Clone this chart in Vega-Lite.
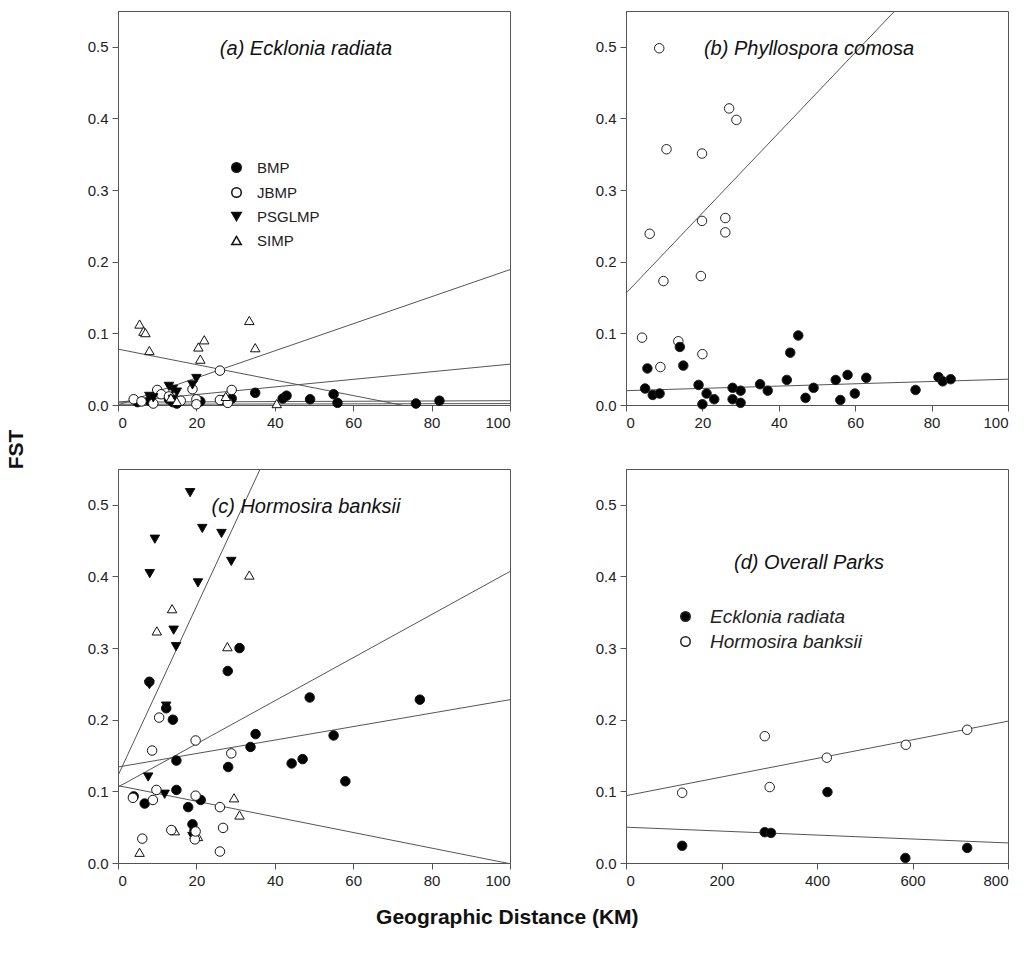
{
  "$schema": "https://vega.github.io/schema/vega-lite/v6.json",
  "padding": {"left": 5, "top": 10, "right": 10, "bottom": 10},
  "background": "white",
  "config": {
    "font": "Liberation Sans",
    "view": {"stroke": "#555", "strokeWidth": 1},
    "axis": {"grid": false, "domainColor": "#555", "tickColor": "#555", "labelFont": "Liberation Sans", "labelFontSize": 15, "labelColor": "#222", "tickSize": 6, "labelPadding": 4},
    "legend": {"labelFont": "Liberation Sans", "labelFontSize": 15, "labelColor": "#222"}
  },
  "datasets": {
    "pts": [
      {"panel": "a", "group": "BMP", "x": 5, "y": 0.004}, {"panel": "a", "group": "BMP", "x": 8, "y": 0.006}, {"panel": "a", "group": "BMP", "x": 13, "y": 0.008}, {"panel": "a", "group": "BMP", "x": 14, "y": 0.004}, {"panel": "a", "group": "BMP", "x": 15, "y": 0.002}, {"panel": "a", "group": "BMP", "x": 21, "y": 0.005}, {"panel": "a", "group": "BMP", "x": 27, "y": 0.007}, {"panel": "a", "group": "BMP", "x": 28, "y": 0.004}, {"panel": "a", "group": "BMP", "x": 29, "y": 0.009}, {"panel": "a", "group": "BMP", "x": 35, "y": 0.017}, {"panel": "a", "group": "BMP", "x": 42, "y": 0.009}, {"panel": "a", "group": "BMP", "x": 43, "y": 0.013}, {"panel": "a", "group": "BMP", "x": 49, "y": 0.008}, {"panel": "a", "group": "BMP", "x": 55, "y": 0.015}, {"panel": "a", "group": "BMP", "x": 56, "y": 0.003}, {"panel": "a", "group": "BMP", "x": 76, "y": 0.002}, {"panel": "a", "group": "BMP", "x": 82, "y": 0.006},
      {"panel": "a", "group": "JBMP", "x": 4, "y": 0.008}, {"panel": "a", "group": "JBMP", "x": 6, "y": 0.005}, {"panel": "a", "group": "JBMP", "x": 9, "y": 0.002}, {"panel": "a", "group": "JBMP", "x": 10, "y": 0.021}, {"panel": "a", "group": "JBMP", "x": 11, "y": 0.015}, {"panel": "a", "group": "JBMP", "x": 13, "y": 0.012}, {"panel": "a", "group": "JBMP", "x": 16, "y": 0.006}, {"panel": "a", "group": "JBMP", "x": 19, "y": 0.022}, {"panel": "a", "group": "JBMP", "x": 20, "y": 0.008}, {"panel": "a", "group": "JBMP", "x": 20, "y": 0.001}, {"panel": "a", "group": "JBMP", "x": 26, "y": 0.048}, {"panel": "a", "group": "JBMP", "x": 26, "y": 0.007}, {"panel": "a", "group": "JBMP", "x": 28, "y": 0.003}, {"panel": "a", "group": "JBMP", "x": 29, "y": 0.021},
      {"panel": "a", "group": "PSGLMP", "x": 8, "y": 0.012}, {"panel": "a", "group": "PSGLMP", "x": 9, "y": 0.010}, {"panel": "a", "group": "PSGLMP", "x": 13, "y": 0.026}, {"panel": "a", "group": "PSGLMP", "x": 14, "y": 0.022}, {"panel": "a", "group": "PSGLMP", "x": 15, "y": 0.018}, {"panel": "a", "group": "PSGLMP", "x": 14, "y": 0.008}, {"panel": "a", "group": "PSGLMP", "x": 19, "y": 0.028}, {"panel": "a", "group": "PSGLMP", "x": 20, "y": 0.037},
      {"panel": "a", "group": "SIMP", "x": 5.5, "y": 0.113}, {"panel": "a", "group": "SIMP", "x": 6.5, "y": 0.103}, {"panel": "a", "group": "SIMP", "x": 7, "y": 0.101}, {"panel": "a", "group": "SIMP", "x": 8, "y": 0.076}, {"panel": "a", "group": "SIMP", "x": 13.5, "y": 0.010}, {"panel": "a", "group": "SIMP", "x": 15, "y": 0.005}, {"panel": "a", "group": "SIMP", "x": 20.5, "y": 0.081}, {"panel": "a", "group": "SIMP", "x": 21, "y": 0.064}, {"panel": "a", "group": "SIMP", "x": 22, "y": 0.091}, {"panel": "a", "group": "SIMP", "x": 27.5, "y": 0.012}, {"panel": "a", "group": "SIMP", "x": 33.5, "y": 0.118}, {"panel": "a", "group": "SIMP", "x": 35, "y": 0.080}, {"panel": "a", "group": "SIMP", "x": 40.5, "y": 0.002},

      {"panel": "b", "group": "JBMP", "x": 4.2, "y": 0.094}, {"panel": "b", "group": "JBMP", "x": 13.7, "y": 0.089}, {"panel": "b", "group": "JBMP", "x": 20, "y": 0.071}, {"panel": "b", "group": "JBMP", "x": 9, "y": 0.053}, {"panel": "b", "group": "JBMP", "x": 8.7, "y": 0.498}, {"panel": "b", "group": "JBMP", "x": 27, "y": 0.414}, {"panel": "b", "group": "JBMP", "x": 28.9, "y": 0.398}, {"panel": "b", "group": "JBMP", "x": 10.6, "y": 0.357}, {"panel": "b", "group": "JBMP", "x": 19.9, "y": 0.351}, {"panel": "b", "group": "JBMP", "x": 19.9, "y": 0.257}, {"panel": "b", "group": "JBMP", "x": 26, "y": 0.261}, {"panel": "b", "group": "JBMP", "x": 26, "y": 0.241}, {"panel": "b", "group": "JBMP", "x": 6.2, "y": 0.239}, {"panel": "b", "group": "JBMP", "x": 19.6, "y": 0.180}, {"panel": "b", "group": "JBMP", "x": 9.8, "y": 0.173},
      {"panel": "b", "group": "BMP", "x": 14.1, "y": 0.081}, {"panel": "b", "group": "BMP", "x": 5.6, "y": 0.051}, {"panel": "b", "group": "BMP", "x": 15, "y": 0.055}, {"panel": "b", "group": "BMP", "x": 45.1, "y": 0.097}, {"panel": "b", "group": "BMP", "x": 43, "y": 0.073}, {"panel": "b", "group": "BMP", "x": 5, "y": 0.023}, {"panel": "b", "group": "BMP", "x": 7, "y": 0.014}, {"panel": "b", "group": "BMP", "x": 8.8, "y": 0.016}, {"panel": "b", "group": "BMP", "x": 19, "y": 0.028}, {"panel": "b", "group": "BMP", "x": 20, "y": 0.001}, {"panel": "b", "group": "BMP", "x": 21.1, "y": 0.016}, {"panel": "b", "group": "BMP", "x": 23.1, "y": 0.008}, {"panel": "b", "group": "BMP", "x": 27.9, "y": 0.024}, {"panel": "b", "group": "BMP", "x": 27.9, "y": 0.008}, {"panel": "b", "group": "BMP", "x": 30, "y": 0.020}, {"panel": "b", "group": "BMP", "x": 30, "y": 0.003}, {"panel": "b", "group": "BMP", "x": 35.1, "y": 0.029}, {"panel": "b", "group": "BMP", "x": 37.1, "y": 0.020}, {"panel": "b", "group": "BMP", "x": 42.1, "y": 0.035}, {"panel": "b", "group": "BMP", "x": 47, "y": 0.010}, {"panel": "b", "group": "BMP", "x": 49.1, "y": 0.024}, {"panel": "b", "group": "BMP", "x": 54.9, "y": 0.035}, {"panel": "b", "group": "BMP", "x": 56.1, "y": 0.007}, {"panel": "b", "group": "BMP", "x": 58, "y": 0.042}, {"panel": "b", "group": "BMP", "x": 59.9, "y": 0.016}, {"panel": "b", "group": "BMP", "x": 62.9, "y": 0.038}, {"panel": "b", "group": "BMP", "x": 75.8, "y": 0.021}, {"panel": "b", "group": "BMP", "x": 81.8, "y": 0.039}, {"panel": "b", "group": "BMP", "x": 82.9, "y": 0.033}, {"panel": "b", "group": "BMP", "x": 85, "y": 0.036},

      {"panel": "c", "group": "BMP", "x": 4, "y": 0.093}, {"panel": "c", "group": "BMP", "x": 6.8, "y": 0.083}, {"panel": "c", "group": "BMP", "x": 8, "y": 0.253}, {"panel": "c", "group": "BMP", "x": 12.3, "y": 0.216}, {"panel": "c", "group": "BMP", "x": 14, "y": 0.200}, {"panel": "c", "group": "BMP", "x": 14.9, "y": 0.143}, {"panel": "c", "group": "BMP", "x": 14.9, "y": 0.102}, {"panel": "c", "group": "BMP", "x": 17.9, "y": 0.078}, {"panel": "c", "group": "BMP", "x": 19, "y": 0.054}, {"panel": "c", "group": "BMP", "x": 19.5, "y": 0.045}, {"panel": "c", "group": "BMP", "x": 21.1, "y": 0.088}, {"panel": "c", "group": "BMP", "x": 28, "y": 0.268}, {"panel": "c", "group": "BMP", "x": 28.1, "y": 0.134}, {"panel": "c", "group": "BMP", "x": 31, "y": 0.300}, {"panel": "c", "group": "BMP", "x": 33.8, "y": 0.162}, {"panel": "c", "group": "BMP", "x": 35.1, "y": 0.180}, {"panel": "c", "group": "BMP", "x": 44.3, "y": 0.139}, {"panel": "c", "group": "BMP", "x": 47.1, "y": 0.145}, {"panel": "c", "group": "BMP", "x": 48.9, "y": 0.231}, {"panel": "c", "group": "BMP", "x": 55, "y": 0.178}, {"panel": "c", "group": "BMP", "x": 58, "y": 0.114}, {"panel": "c", "group": "BMP", "x": 77, "y": 0.228},
      {"panel": "c", "group": "PSGLMP", "x": 18.4, "y": 0.517}, {"panel": "c", "group": "PSGLMP", "x": 21.5, "y": 0.467}, {"panel": "c", "group": "PSGLMP", "x": 26.4, "y": 0.460}, {"panel": "c", "group": "PSGLMP", "x": 9.4, "y": 0.452}, {"panel": "c", "group": "PSGLMP", "x": 28.9, "y": 0.421}, {"panel": "c", "group": "PSGLMP", "x": 8.1, "y": 0.404}, {"panel": "c", "group": "PSGLMP", "x": 20.4, "y": 0.391}, {"panel": "c", "group": "PSGLMP", "x": 14.2, "y": 0.325}, {"panel": "c", "group": "PSGLMP", "x": 14.8, "y": 0.302}, {"panel": "c", "group": "PSGLMP", "x": 8, "y": 0.249}, {"panel": "c", "group": "PSGLMP", "x": 12.3, "y": 0.219}, {"panel": "c", "group": "PSGLMP", "x": 7.7, "y": 0.120}, {"panel": "c", "group": "PSGLMP", "x": 11.9, "y": 0.096}, {"panel": "c", "group": "PSGLMP", "x": 19, "y": 0.037},
      {"panel": "c", "group": "SIMP", "x": 33.5, "y": 0.402}, {"panel": "c", "group": "SIMP", "x": 13.8, "y": 0.355}, {"panel": "c", "group": "SIMP", "x": 9.9, "y": 0.324}, {"panel": "c", "group": "SIMP", "x": 27.9, "y": 0.302}, {"panel": "c", "group": "SIMP", "x": 29.6, "y": 0.091}, {"panel": "c", "group": "SIMP", "x": 31, "y": 0.067}, {"panel": "c", "group": "SIMP", "x": 14.5, "y": 0.045}, {"panel": "c", "group": "SIMP", "x": 20.4, "y": 0.037}, {"panel": "c", "group": "SIMP", "x": 5.5, "y": 0.015}, {"panel": "c", "group": "SIMP", "x": 19.5, "y": 0.040},
      {"panel": "c", "group": "JBMP", "x": 10.5, "y": 0.203}, {"panel": "c", "group": "JBMP", "x": 19.8, "y": 0.171}, {"panel": "c", "group": "JBMP", "x": 8.7, "y": 0.157}, {"panel": "c", "group": "JBMP", "x": 28.9, "y": 0.153}, {"panel": "c", "group": "JBMP", "x": 9.8, "y": 0.102}, {"panel": "c", "group": "JBMP", "x": 3.8, "y": 0.091}, {"panel": "c", "group": "JBMP", "x": 8.9, "y": 0.088}, {"panel": "c", "group": "JBMP", "x": 19.8, "y": 0.094}, {"panel": "c", "group": "JBMP", "x": 26, "y": 0.078}, {"panel": "c", "group": "JBMP", "x": 26.8, "y": 0.049}, {"panel": "c", "group": "JBMP", "x": 6.2, "y": 0.034}, {"panel": "c", "group": "JBMP", "x": 19.6, "y": 0.033}, {"panel": "c", "group": "JBMP", "x": 19.8, "y": 0.044}, {"panel": "c", "group": "JBMP", "x": 26, "y": 0.016}, {"panel": "c", "group": "JBMP", "x": 13.6, "y": 0.046},

      {"panel": "d", "group": "Ecklonia radiata", "x": 117.6, "y": 0.024}, {"panel": "d", "group": "Ecklonia radiata", "x": 290.6, "y": 0.043}, {"panel": "d", "group": "Ecklonia radiata", "x": 303.6, "y": 0.042}, {"panel": "d", "group": "Ecklonia radiata", "x": 421.9, "y": 0.099}, {"panel": "d", "group": "Ecklonia radiata", "x": 585, "y": 0.007}, {"panel": "d", "group": "Ecklonia radiata", "x": 714.5, "y": 0.021},
      {"panel": "d", "group": "Hormosira banksii", "x": 117.6, "y": 0.098}, {"panel": "d", "group": "Hormosira banksii", "x": 290.6, "y": 0.177}, {"panel": "d", "group": "Hormosira banksii", "x": 300.9, "y": 0.106}, {"panel": "d", "group": "Hormosira banksii", "x": 420.5, "y": 0.147}, {"panel": "d", "group": "Hormosira banksii", "x": 586, "y": 0.165}, {"panel": "d", "group": "Hormosira banksii", "x": 714.5, "y": 0.186}
    ],
    "lines": [
      {"panel": "a", "line": "a1", "x": 0, "y": 0.0}, {"panel": "a", "line": "a1", "x": 100, "y": 0.189},
      {"panel": "a", "line": "a2", "x": 0, "y": 0.004}, {"panel": "a", "line": "a2", "x": 100, "y": 0.057},
      {"panel": "a", "line": "a3", "x": 0, "y": 0.078}, {"panel": "a", "line": "a3", "x": 100, "y": -0.03},
      {"panel": "a", "line": "a4", "x": 0, "y": 0.004}, {"panel": "a", "line": "a4", "x": 100, "y": 0.006},
      {"panel": "a", "line": "a5", "x": 0, "y": 0.001}, {"panel": "a", "line": "a5", "x": 100, "y": 0.002},
      {"panel": "b", "line": "b1", "x": 0, "y": 0.156}, {"panel": "b", "line": "b1", "x": 100, "y": 0.716},
      {"panel": "b", "line": "b2", "x": 0, "y": 0.020}, {"panel": "b", "line": "b2", "x": 100, "y": 0.036},
      {"panel": "c", "line": "c1", "x": 0, "y": 0.122}, {"panel": "c", "line": "c1", "x": 100, "y": 1.302},
      {"panel": "c", "line": "c2", "x": 0, "y": 0.106}, {"panel": "c", "line": "c2", "x": 100, "y": 0.407},
      {"panel": "c", "line": "c3", "x": 0, "y": 0.134}, {"panel": "c", "line": "c3", "x": 100, "y": 0.228},
      {"panel": "c", "line": "c4", "x": 0, "y": 0.108}, {"panel": "c", "line": "c4", "x": 100, "y": -0.001},
      {"panel": "d", "line": "d1", "x": 0, "y": 0.094}, {"panel": "d", "line": "d1", "x": 800, "y": 0.198},
      {"panel": "d", "line": "d2", "x": 0, "y": 0.050}, {"panel": "d", "line": "d2", "x": 800, "y": 0.028}
    ]
  },
  "title": {"text": "Geographic Distance (KM)", "orient": "bottom", "anchor": "middle", "fontSize": 21, "fontWeight": "bold", "font": "Liberation Sans", "color": "#111", "offset": 18},
  "resolve": {"scale": {"fill": "independent", "shape": "independent", "x": "independent", "y": "independent"}, "legend": {"fill": "independent", "shape": "independent"}},
  "vconcat": [
    {
      "title": {"text": "FST", "orient": "left", "anchor": "middle", "fontSize": 21, "fontWeight": "bold", "font": "Liberation Sans", "color": "#111", "offset": 60},
      "columns": 2,
      "bounds": "flush",
      "spacing": {"row": 64, "column": 116},
      "resolve": {"scale": {"fill": "independent", "shape": "independent", "x": "independent", "y": "independent"}, "legend": {"fill": "independent", "shape": "independent"}},
      "concat": [
        {
          "width": 392, "height": 394,
          "title": {"text": "(a) Ecklonia radiata", "offset": -48, "dx": -8, "fontStyle": "italic", "fontWeight": "normal", "fontSize": 20, "font": "Liberation Sans", "color": "#111"},
          "layer": [
            {"data": {"name": "lines"}, "transform": [{"filter": "datum.panel === 'a'"}],
             "mark": {"type": "line", "clip": true, "color": "#555", "strokeWidth": 1},
             "encoding": {
               "x": {"field": "x", "type": "quantitative", "scale": {"domain": [0, 100], "nice": false}, "axis": {"values": [0, 20, 40, 60, 80, 100], "title": null}},
               "y": {"field": "y", "type": "quantitative", "scale": {"domain": [0, 0.55], "nice": false}, "axis": {"values": [0, 0.1, 0.2, 0.3, 0.4, 0.5], "format": ".1f", "title": null}},
               "detail": {"field": "line"}}},
            {"data": {"name": "pts"}, "transform": [{"filter": "datum.panel === 'a'"}],
             "mark": {"type": "point", "filled": true, "stroke": "#111", "strokeWidth": 1, "size": 90, "opacity": 1},
             "encoding": {
               "x": {"field": "x", "type": "quantitative"},
               "y": {"field": "y", "type": "quantitative"},
               "fill": {"field": "group", "type": "nominal", "scale": {"domain": ["BMP", "JBMP", "PSGLMP", "SIMP"], "range": ["#000000", "#ffffff", "#000000", "#ffffff"]}, "legend": {"title": null, "orient": "none", "legendX": 111, "legendY": 149, "symbolSize": 90, "rowPadding": 8, "labelOffset": 13, "encode": {"symbols": {"update": {"stroke": {"value": "#111"}, "strokeWidth": {"value": 1}}}}}},
               "shape": {"field": "group", "type": "nominal", "scale": {"domain": ["BMP", "JBMP", "PSGLMP", "SIMP"], "range": ["circle", "circle", "triangle-down", "triangle-up"]}, "legend": {"title": null, "orient": "none", "legendX": 111, "legendY": 149, "symbolSize": 90, "rowPadding": 8, "labelOffset": 13, "encode": {"symbols": {"update": {"stroke": {"value": "#111"}, "strokeWidth": {"value": 1}}}}}}}}
          ]
        },
        {
          "width": 382, "height": 394,
          "title": {"text": "(b) Phyllospora comosa", "offset": -48, "dx": -8, "fontStyle": "italic", "fontWeight": "normal", "fontSize": 20, "font": "Liberation Sans", "color": "#111"},
          "layer": [
            {"data": {"name": "lines"}, "transform": [{"filter": "datum.panel === 'b'"}],
             "mark": {"type": "line", "clip": true, "color": "#555", "strokeWidth": 1},
             "encoding": {
               "x": {"field": "x", "type": "quantitative", "scale": {"domain": [0, 100], "nice": false}, "axis": {"values": [0, 20, 40, 60, 80, 100], "title": null}},
               "y": {"field": "y", "type": "quantitative", "scale": {"domain": [0, 0.55], "nice": false}, "axis": {"values": [0, 0.1, 0.2, 0.3, 0.4, 0.5], "format": ".1f", "title": null}},
               "detail": {"field": "line"}}},
            {"data": {"name": "pts"}, "transform": [{"filter": "datum.panel === 'b'"}],
             "mark": {"type": "point", "filled": true, "stroke": "#222", "strokeWidth": 1, "size": 90, "opacity": 1},
             "encoding": {
               "x": {"field": "x", "type": "quantitative"},
               "y": {"field": "y", "type": "quantitative"},
               "fill": {"field": "group", "type": "nominal", "scale": {"domain": ["BMP", "JBMP"], "range": ["#000000", "#ffffff"]}, "legend": null},
               "shape": {"field": "group", "type": "nominal", "scale": {"domain": ["BMP", "JBMP"], "range": ["circle", "circle"]}, "legend": null}}}
          ]
        },
        {
          "width": 392, "height": 394,
          "title": {"text": "(c) Hormosira banksii", "offset": -48, "dx": -8, "fontStyle": "italic", "fontWeight": "normal", "fontSize": 20, "font": "Liberation Sans", "color": "#111"},
          "layer": [
            {"data": {"name": "lines"}, "transform": [{"filter": "datum.panel === 'c'"}],
             "mark": {"type": "line", "clip": true, "color": "#555", "strokeWidth": 1},
             "encoding": {
               "x": {"field": "x", "type": "quantitative", "scale": {"domain": [0, 100], "nice": false}, "axis": {"values": [0, 20, 40, 60, 80, 100], "title": null}},
               "y": {"field": "y", "type": "quantitative", "scale": {"domain": [0, 0.55], "nice": false}, "axis": {"values": [0, 0.1, 0.2, 0.3, 0.4, 0.5], "format": ".1f", "title": null}},
               "detail": {"field": "line"}}},
            {"data": {"name": "pts"}, "transform": [{"filter": "datum.panel === 'c'"}],
             "mark": {"type": "point", "filled": true, "stroke": "#111", "strokeWidth": 1, "size": 90, "opacity": 1},
             "encoding": {
               "x": {"field": "x", "type": "quantitative"},
               "y": {"field": "y", "type": "quantitative"},
               "fill": {"field": "group", "type": "nominal", "scale": {"domain": ["BMP", "JBMP", "PSGLMP", "SIMP"], "range": ["#000000", "#ffffff", "#000000", "#ffffff"]}, "legend": null},
               "shape": {"field": "group", "type": "nominal", "scale": {"domain": ["BMP", "JBMP", "PSGLMP", "SIMP"], "range": ["circle", "circle", "triangle-down", "triangle-up"]}, "legend": null}}}
          ]
        },
        {
          "width": 382, "height": 394,
          "title": {"text": "(d) Overall Parks", "offset": -104, "dx": -8, "fontStyle": "italic", "fontWeight": "normal", "fontSize": 20, "font": "Liberation Sans", "color": "#111"},
          "layer": [
            {"data": {"name": "lines"}, "transform": [{"filter": "datum.panel === 'd'"}],
             "mark": {"type": "line", "clip": true, "color": "#555", "strokeWidth": 1},
             "encoding": {
               "x": {"field": "x", "type": "quantitative", "scale": {"domain": [0, 800], "nice": false}, "axis": {"values": [0, 200, 400, 600, 800], "title": null}},
               "y": {"field": "y", "type": "quantitative", "scale": {"domain": [0, 0.55], "nice": false}, "axis": {"values": [0, 0.1, 0.2, 0.3, 0.4, 0.5], "format": ".1f", "title": null}},
               "detail": {"field": "line"}}},
            {"data": {"name": "pts"}, "transform": [{"filter": "datum.panel === 'd'"}],
             "mark": {"type": "point", "filled": true, "stroke": "#222", "strokeWidth": 1, "size": 90, "opacity": 1},
             "encoding": {
               "x": {"field": "x", "type": "quantitative"},
               "y": {"field": "y", "type": "quantitative"},
               "fill": {"field": "group", "type": "nominal", "scale": {"domain": ["Ecklonia radiata", "Hormosira banksii"], "range": ["#000000", "#ffffff"]}, "legend": {"title": null, "orient": "none", "legendX": 50, "legendY": 138, "symbolSize": 90, "rowPadding": 5, "labelOffset": 15, "labelFontStyle": "italic", "labelFontSize": 19, "encode": {"symbols": {"update": {"stroke": {"value": "#222"}, "strokeWidth": {"value": 1}}}}}},
               "shape": {"field": "group", "type": "nominal", "scale": {"domain": ["Ecklonia radiata", "Hormosira banksii"], "range": ["circle", "circle"]}, "legend": {"title": null, "orient": "none", "legendX": 50, "legendY": 138, "symbolSize": 90, "rowPadding": 5, "labelOffset": 15, "labelFontStyle": "italic", "labelFontSize": 19, "encode": {"symbols": {"update": {"stroke": {"value": "#222"}, "strokeWidth": {"value": 1}}}}}}}}
          ]
        }
      ]
    }
  ]
}
